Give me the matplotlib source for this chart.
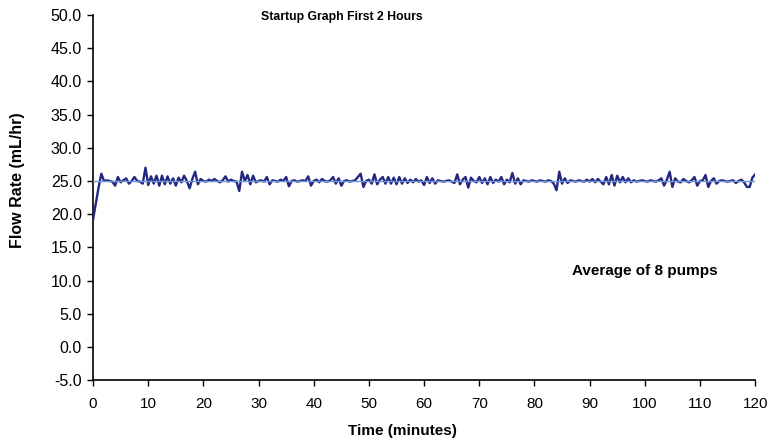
import numpy as np
import matplotlib
matplotlib.use("Agg")
import matplotlib.pyplot as plt

plt.rcParams['font.family'] = ['Liberation Sans', 'DejaVu Sans']

# time in minutes (every 0.5 min)
time_min = np.arange(0, 120.5, 0.5)

flow_rate = [
    # 0 - 9.5
    19.2, 21.6, 24.0, 26.1, 25.0, 25.1, 25.0, 24.9, 24.3, 25.6,
    24.8, 25.1, 25.4, 24.6, 25.0, 25.6, 25.0, 24.9, 24.6, 27.0,
    # 10 - 19.5
    24.4, 25.7, 24.6, 25.8, 24.3, 25.8, 24.5, 25.7, 24.6, 25.4,
    24.3, 25.5, 24.8, 25.8, 25.0, 23.9, 25.3, 26.4, 24.5, 25.3,
    # 20 - 29.5
    25.0, 24.9, 25.2, 25.0, 25.3, 25.0, 24.8, 25.1, 25.7, 24.9,
    25.2, 25.0, 24.9, 23.5, 26.4, 25.0, 25.9, 24.5, 25.8, 24.8,
    # 30 - 39.5
    25.0, 25.1, 24.9, 25.6, 24.5, 25.1, 25.0, 24.9, 25.2, 25.0,
    25.6, 24.2, 25.0, 25.1, 24.9, 25.0, 25.1, 25.0, 25.7, 24.3,
    # 40 - 49.5
    25.0, 25.2, 24.8, 25.3, 25.0, 24.9, 25.1, 25.6, 24.6, 25.4,
    24.3, 25.0, 25.1, 24.9, 25.0, 25.1, 25.6, 26.1, 24.1, 25.0,
    # 50 - 59.5
    25.2, 24.6, 26.0, 24.5, 25.2, 25.6, 24.6, 25.6, 24.6, 25.5,
    24.5, 25.6, 24.6, 25.4, 24.7, 25.2, 24.8, 25.3, 24.9, 25.1,
    # 60 - 69.5
    24.4, 25.6, 24.7, 25.4, 24.6, 25.1, 25.0, 24.9, 25.0, 25.1,
    24.9, 24.7, 26.0, 24.5, 25.2, 25.6, 24.0, 25.5, 25.0, 24.8,
    # 70 - 79.5
    25.6, 24.7, 25.4, 24.5, 25.6, 24.7, 25.2, 24.9, 25.6, 24.5,
    25.2, 24.8, 26.2, 24.6, 25.4, 24.5, 25.1, 25.0, 24.9, 25.1,
    # 80 - 89.5
    25.0, 24.9, 25.1, 25.0, 24.9, 25.1, 25.0, 24.6, 23.6, 26.4,
    24.6, 25.4, 24.7, 25.1, 25.0, 24.9, 25.1, 25.0, 24.9, 25.2,
    # 90 - 99.5
    24.9, 25.3, 24.8, 25.3, 24.9, 24.5, 25.6, 24.5, 25.9, 24.3,
    25.8, 24.8, 25.6, 24.8, 25.4, 24.8, 25.1, 24.9, 25.0, 25.1,
    # 100 - 109.5
    25.0, 24.9, 25.1, 25.0, 24.9, 25.1, 25.4, 24.3, 25.2, 26.4,
    24.1, 25.4, 24.9, 24.8, 25.3, 25.0, 24.8, 25.1, 25.6, 24.3,
    # 110 - 120
    25.0, 25.1, 25.9, 24.1, 25.0, 25.4, 24.6, 25.0, 25.1, 25.0,
    24.9, 25.0, 25.1, 24.7, 25.0, 25.2, 24.8, 24.1, 24.1, 25.5,
    26.0,
]

target_rate = 25.0

y_ticks = np.arange(-5, 50.1, 5)
x_ticks = np.arange(0, 121, 10)

fig = plt.figure(figsize=(7.69, 4.43), dpi=100)
ax = fig.add_axes([0.121, 0.142, 0.861, 0.824])

ax.plot(time_min, flow_rate, color='#22277f', linewidth=1.7, zorder=3)
ax.axhline(target_rate, color='#7395dc', linewidth=1.0, zorder=4)

ax.set_xlim(0, 120)
ax.set_ylim(-5, 50)
ax.set_xticks(x_ticks)
ax.set_yticks(y_ticks)
ax.set_yticklabels([f"{v:.1f}" for v in y_ticks])
ax.tick_params(axis='both', direction='out', length=4, width=1, colors='black')
ax.tick_params(axis='y', labelsize=11.5, pad=4)
ax.tick_params(axis='x', labelsize=11, pad=8)

for s in ['top', 'right']:
    ax.spines[s].set_visible(False)
for s in ['left', 'bottom']:
    ax.spines[s].set_linewidth(1.2)

ax.set_xlabel('Time (minutes)', fontsize=11, fontweight='bold')
ax.set_ylabel('Flow Rate (mL/hr)', fontsize=11.5, fontweight='bold')
ax.xaxis.set_label_coords(0.467, -0.12)
ax.yaxis.set_label_coords(-0.103, 0.548)

ax.text(0.375, 0.994, 'Startup Graph First 2 Hours', transform=ax.transAxes,
        ha='center', va='center', fontsize=8.8, fontweight='bold')
ax.text(0.834, 0.3, 'Average of 8 pumps', transform=ax.transAxes,
        ha='center', va='center', fontsize=11, fontweight='bold')

fig.savefig('out.png', dpi=100)
